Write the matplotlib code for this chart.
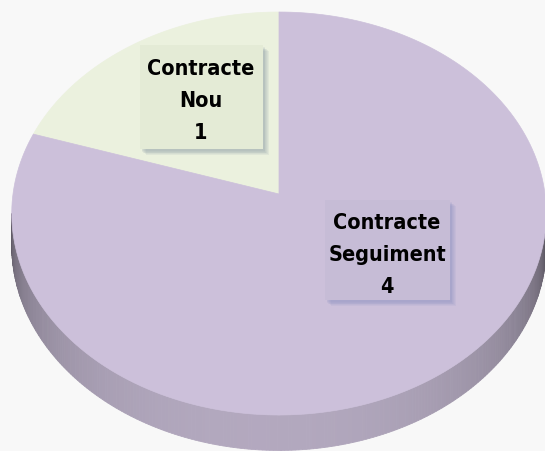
import numpy as np
import matplotlib
matplotlib.use("Agg")
from matplotlib import pyplot as plt
from matplotlib.patches import Polygon, Rectangle
from matplotlib.colors import to_rgb

# data
categories = ["Contracte\nNou", "Contracte\nSeguiment"]
values = [1, 4]
slice_colors = ["#EBF1DE", "#CCC0DA"]
box_colors = ["#E4EBD6", "#C6BCD6"]
shadow_colors = ["#8E9EA6", "#8C93C2"]

# pie geometry in pixel units (axes = image pixels)
cx, cy = 279, 194       # apex of the pie
A, B, k = 266, 199.6, 0.0968   # radii and perspective factor
depth = 32
start = 90  # first slice starts at 12 o'clock, goes counterclockwise

def proj(theta, r=1.0, dz=0.0):
    u = r * np.cos(theta)
    v = r * np.sin(theta)
    w = 1 + k * v
    return cx + A * u / w, cy - B * v / w + dz / w

fig = plt.figure(figsize=(5.45, 4.51), dpi=100)
fig.patch.set_facecolor("#F8F8F8")
ax = fig.add_axes([0, 0, 1, 1])
ax.set_xlim(0, 545)
ax.set_ylim(451, 0)
ax.axis("off")

fracs = np.array(values) / np.sum(values)
bounds = start + 360 * np.concatenate([[0], np.cumsum(fracs)])

# side of the pie (front half only), shaded strip by strip
th_l = np.pi + np.arcsin(k)
th_r = 2 * np.pi - np.arcsin(k)
ts = np.linspace(th_l, th_r, 240)
for t0, t1 in zip(ts[:-1], ts[1:]):
    tm = np.degrees(0.5 * (t0 + t1))
    idx = np.searchsorted(bounds, tm % 360 if tm % 360 >= start else tm % 360 + 360) - 1
    idx = min(max(idx, 0), len(values) - 1)
    base = np.array(to_rgb(slice_colors[idx]))
    # dark towards both rims
    s = (np.radians(tm) - th_l) / (th_r - th_l)
    shade = np.sin(np.pi * s) ** 0.45
    shade = 0.30 + 0.58 * shade - 0.06 * s
    col = np.clip(base * shade + 0.02, 0, 1)
    x0, y0 = proj(t0)
    x1, y1 = proj(t1)
    x2, y2 = proj(t1, dz=depth)
    x3, y3 = proj(t0, dz=depth)
    ax.add_patch(Polygon([[x0, y0], [x1, y1], [x2, y2], [x3, y3]],
                         closed=True, fc=col, ec=col, lw=0.6))

# top face slices
for i in range(len(values)):
    th = np.radians(np.linspace(bounds[i], bounds[i + 1], 200))
    xs, ys = proj(th)
    pts = np.column_stack([np.r_[cx, xs], np.r_[cy, ys]])
    ax.add_patch(Polygon(pts, closed=True, fc=slice_colors[i], ec=slice_colors[i], lw=0.5))

# data labels with soft shadow
label_pos = [(201, 97), (387, 250)]
text_y = [101, 255]
box_size = [(123, 104), (125, 100)]
for i in range(len(values)):
    x, y = label_pos[i]
    bw, bh = box_size[i]
    for j in range(6):
        off = 2 + j * 0.8
        ax.add_patch(Rectangle((x - bw / 2 + off, y - bh / 2 + off), bw, bh,
                               fc=shadow_colors[i], ec="none", alpha=0.12))
    ax.add_patch(Rectangle((x - bw / 2, y - bh / 2), bw, bh, fc=box_colors[i], ec="none"))
    ax.text(x, text_y[i], f"{categories[i]}\n{values[i]}", ha="center", va="center",
            fontsize=15.5, fontweight="bold", family="DejaVu Sans", fontstretch="condensed",
            linespacing=1.75, color="black")

fig.savefig("out.png", dpi=100, facecolor=fig.get_facecolor())
